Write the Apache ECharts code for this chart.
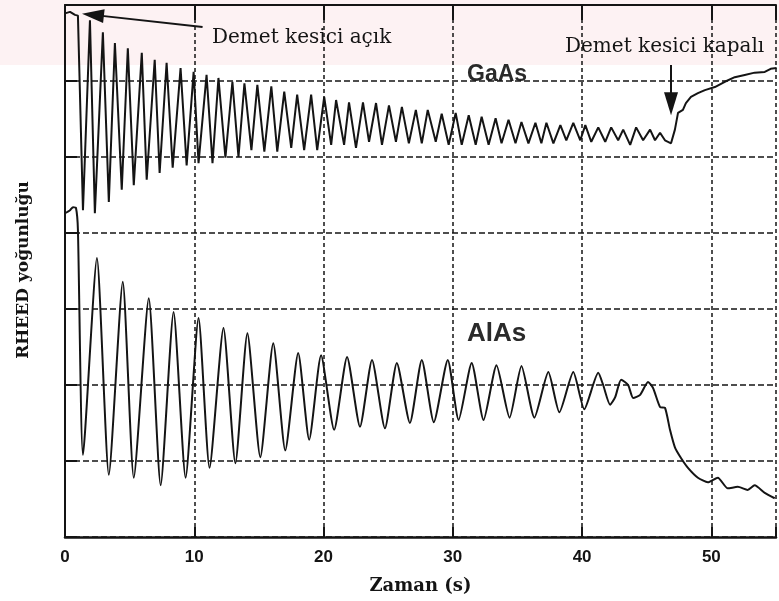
<!DOCTYPE html>
<html><head><meta charset="utf-8">
<script src="https://cdn.jsdelivr.net/npm/echarts@6/dist/echarts.min.js"></script>
<style>html,body{margin:0;padding:0;background:#fff}#c{width:779px;height:601px}</style>
</head><body><div id="c"></div>
<script>
// Time (s) and RHEED intensity (arb. units)
const gaasTime = [0, 0.39, 0.77, 1.00, 1.39, 1.93, 2.31, 2.93, 3.39, 3.86, 4.39, 4.86, 5.32, 5.94, 6.32, 6.94, 7.32, 7.86, 8.33, 8.94, 9.41, 9.95, 10.33, 10.95, 11.41, 11.87, 12.41, 12.95, 13.42, 13.88, 14.42, 14.88, 15.42, 15.96, 16.42, 16.96, 17.50, 17.96, 18.50, 19.04, 19.51, 20.05, 20.59, 20.97, 21.59, 21.97, 22.51, 23.05, 23.52, 24.06, 24.52, 25.06, 25.60, 26.06, 26.60, 27.14, 27.60, 28.06, 28.68, 29.14, 29.68, 30.22, 30.69, 31.23, 31.77, 32.23, 32.77, 33.31, 33.77, 34.31, 34.85, 35.31, 35.85, 36.39, 36.85, 37.24, 37.78, 38.32, 38.78, 39.32, 39.86, 40.25, 40.71, 41.25, 41.79, 42.25, 42.79, 43.18, 43.72, 44.18, 44.72, 45.26, 45.64, 46.03, 46.41, 46.88, 47.18, 47.42, 47.80, 48.03, 48.42, 48.96, 49.50, 50.27, 51.04, 51.81, 52.58, 53.35, 54.13, 54.59, 55.05];
const gaasIntensity = [6.89, 6.91, 6.87, 6.86, 4.30, 6.80, 4.26, 6.64, 4.41, 6.50, 4.57, 6.43, 4.63, 6.37, 4.70, 6.28, 4.79, 6.24, 4.86, 6.17, 4.89, 6.12, 4.92, 6.08, 4.92, 6.04, 4.99, 5.99, 5.00, 5.97, 5.09, 5.95, 5.07, 5.93, 5.07, 5.86, 5.12, 5.82, 5.09, 5.82, 5.09, 5.79, 5.16, 5.75, 5.16, 5.72, 5.12, 5.72, 5.20, 5.71, 5.16, 5.68, 5.20, 5.66, 5.18, 5.62, 5.18, 5.62, 5.20, 5.57, 5.16, 5.58, 5.16, 5.55, 5.16, 5.53, 5.16, 5.51, 5.18, 5.49, 5.18, 5.46, 5.18, 5.45, 5.18, 5.45, 5.18, 5.42, 5.22, 5.45, 5.22, 5.42, 5.20, 5.39, 5.20, 5.39, 5.22, 5.36, 5.16, 5.39, 5.22, 5.36, 5.22, 5.32, 5.22, 5.18, 5.36, 5.58, 5.62, 5.71, 5.79, 5.84, 5.88, 5.92, 5.99, 6.05, 6.08, 6.11, 6.12, 6.16, 6.17];
const alasTime = [0, 0.39, 0.62, 0.85, 1.00, 1.39, 2.47, 3.39, 4.47, 5.32, 6.48, 7.40, 8.40, 9.33, 10.33, 11.18, 12.26, 13.18, 14.11, 15.11, 16.11, 17.04, 18.04, 18.89, 19.81, 20.82, 21.82, 22.82, 23.75, 24.75, 25.67, 26.68, 27.60, 28.53, 29.61, 30.45, 31.46, 32.38, 33.38, 34.39, 35.31, 36.31, 37.39, 38.24, 39.32, 40.17, 41.25, 41.63, 42.17, 42.56, 43.02, 43.56, 43.95, 44.49, 45.10, 45.49, 46.03, 46.41, 46.80, 47.18, 47.65, 48.19, 48.96, 49.73, 50.50, 51.27, 52.04, 52.81, 53.35, 54.13, 54.90];
const alasIntensity = [4.26, 4.30, 4.34, 4.33, 4.04, 1.08, 3.67, 0.82, 3.36, 0.78, 3.14, 0.68, 2.96, 0.78, 2.88, 0.91, 2.75, 0.97, 2.68, 1.05, 2.55, 1.14, 2.42, 1.28, 2.39, 1.41, 2.37, 1.45, 2.33, 1.43, 2.29, 1.50, 2.33, 1.51, 2.33, 1.54, 2.29, 1.54, 2.26, 1.57, 2.25, 1.57, 2.17, 1.64, 2.17, 1.68, 2.16, 2.00, 1.74, 1.84, 2.07, 2.00, 1.83, 1.87, 2.04, 1.96, 1.71, 1.70, 1.41, 1.18, 1.04, 0.91, 0.78, 0.72, 0.78, 0.64, 0.66, 0.62, 0.68, 0.58, 0.51];
const xTickLabels = ['0', '10', '20', '30', '40', '50'];
const seriesNames = ['GaAs', 'AlAs'];
const xTitle = 'Zaman (s)';
const yTitle = 'RHEED yoğunluğu';
const noteOpen = 'Demet kesici açık';
const noteClosed = 'Demet kesici kapalı';

const zip = (t, v) => t.map((x, i) => [x, v[i]]);
const ink = '#141414';
const serif = "'DejaVu Serif', 'Liberation Serif', serif";
const sans = "'Liberation Sans', Arial, sans-serif";

const chart = echarts.init(document.getElementById('c'), null, {renderer: 'canvas'});
const option = {
  animation: false,
  backgroundColor: '#ffffff',
  grid: {left: 65, right: 0, top: 5, bottom: 64},
  xAxis: [{
    type: 'value', min: 0, max: 55.0, interval: 10, position: 'bottom',
    axisLine: {show: true, lineStyle: {color: ink, width: 2.5}},
    axisTick: {show: true, inside: true, length: 10, lineStyle: {color: ink, width: 2}},
    axisLabel: {
      margin: 12, color: ink, fontFamily: "'Liberation Sans Narrow', 'Liberation Sans', Arial, sans-serif",
      fontWeight: 'bold', fontSize: 17,
      formatter: v => xTickLabels.includes(String(Math.round(v))) && Math.abs(v - Math.round(v)) < 1e-6 ? String(Math.round(v)) : ''
    },
    splitLine: {show: true, lineStyle: {color: ink, width: 1.5, type: [4, 3]}},
    name: xTitle, nameLocation: 'middle', nameGap: 40,
    nameTextStyle: {fontFamily: serif, fontWeight: 'bold', fontSize: 18, color: ink}
  }, {
    type: 'value', min: 0, max: 55.0, interval: 10, position: 'top',
    axisLine: {show: true, lineStyle: {color: ink, width: 2}},
    axisTick: {show: true, inside: true, length: 15, lineStyle: {color: ink, width: 2}},
    axisLabel: {show: false}, splitLine: {show: false}
  }],
  yAxis: {
    type: 'value', min: 0, max: 7, interval: 1,
    axisLine: {show: true, lineStyle: {color: ink, width: 2}},
    axisTick: {show: true, inside: true, length: 12, lineStyle: {color: ink, width: 2}},
    axisLabel: {show: false},
    splitLine: {show: true, lineStyle: {color: ink, width: 1.5, type: [6, 3]}}
  },
  series: [{
    type: 'line', name: seriesNames[0], data: zip(gaasTime, gaasIntensity),
    showSymbol: false, symbol: 'none', smooth: false, clip: true,
    lineStyle: {color: ink, width: 2}, z: 5,
    markLine: {
      silent: true, animation: false, label: {show: false},
      symbol: ['none', 'triangle'],
      lineStyle: {color: ink, width: 2, type: 'solid'},
      data: [
        [{coord: [10.64, 6.71], symbol: 'none'}, {coord: [2.16, 6.87], symbol: 'triangle', symbolSize: [14, 22]}],
        [{coord: [46.88, 6.21], symbol: 'none'}, {coord: [46.88, 5.70], symbol: 'triangle', symbolSize: [14, 23]}]
      ]
    }
  }, {
    type: 'line', name: seriesNames[1], data: zip(alasTime, alasIntensity),
    showSymbol: false, symbol: 'none', smooth: 0.2, clip: true,
    lineStyle: {color: ink, width: 2}, z: 5
  }],
  graphic: [
    {type: 'rect', z: -10, silent: true, shape: {x: 0, y: 0, width: 779, height: 65}, style: {fill: 'rgba(235,150,160,0.12)'}},
    {type: 'text', x: 212, y: 38, style: {text: noteOpen, font: '20px ' + serif, fill: ink, textAlign: 'left', textVerticalAlign: 'middle'}},
    {type: 'text', x: 565, y: 47, style: {text: noteClosed, font: '20px ' + serif, fill: ink, textAlign: 'left', textVerticalAlign: 'middle'}},
    {type: 'text', x: 467, y: 75, style: {text: seriesNames[0], font: 'bold 23px ' + sans, fill: '#2a2a2a', textAlign: 'left', textVerticalAlign: 'middle'}},
    {type: 'text', x: 467, y: 334, style: {text: seriesNames[1], font: 'bold 26px ' + sans, fill: '#2a2a2a', textAlign: 'left', textVerticalAlign: 'middle'}},
    {type: 'text', x: 24, y: 270, rotation: Math.PI / 2, style: {text: yTitle, font: 'bold 17px ' + serif, fill: ink, textAlign: 'center', textVerticalAlign: 'middle'}}
  ]
};
chart.setOption(option);
</script>
</body></html>
